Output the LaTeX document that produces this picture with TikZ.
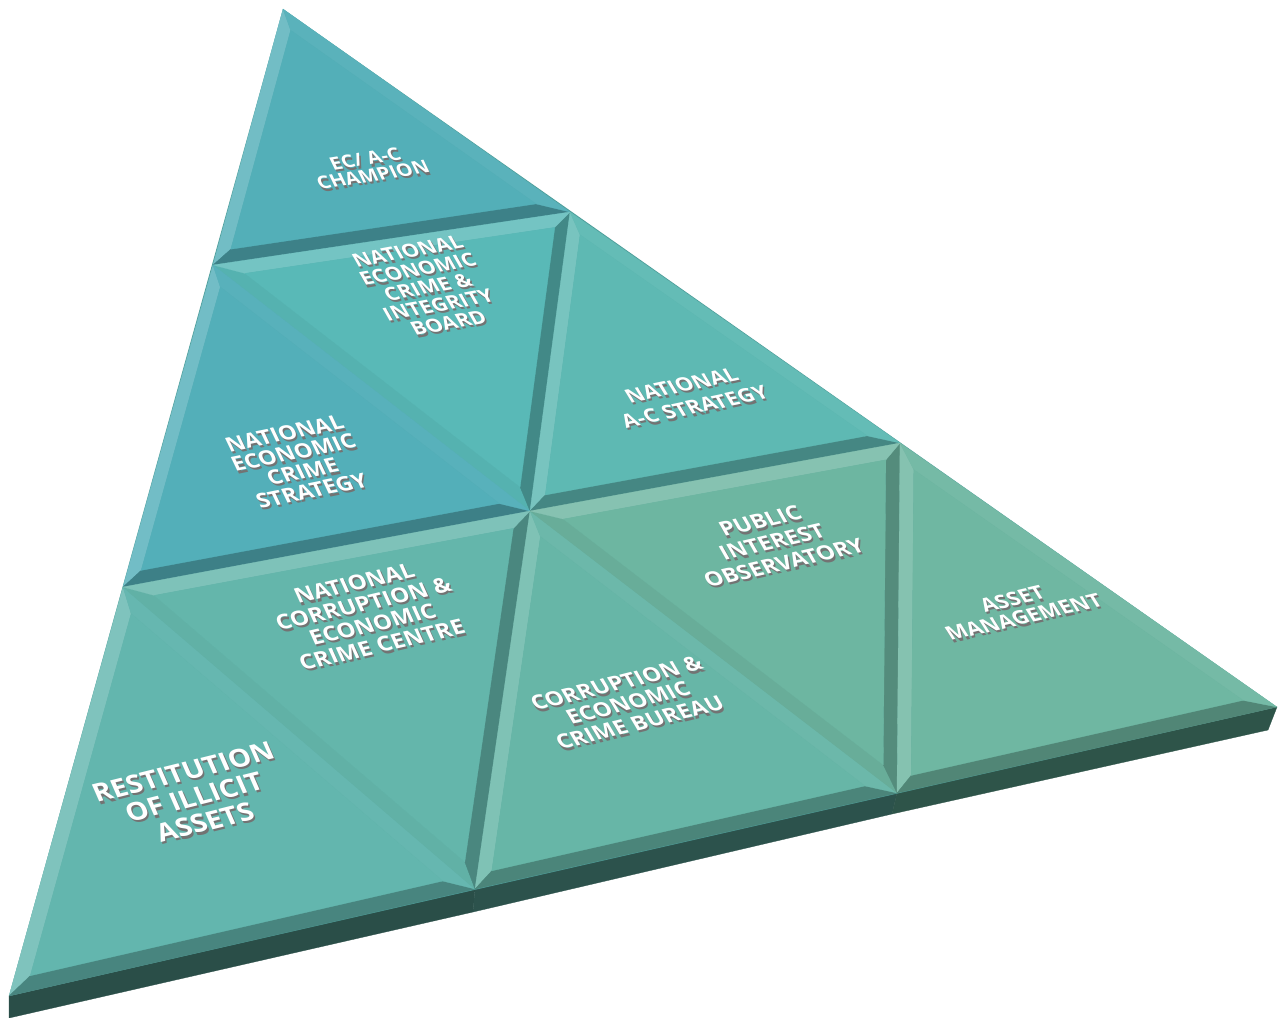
\documentclass[tikz,border=0pt]{standalone}
\usepackage{fontspec}
\setmainfont{Open Sans}
\usetikzlibrary{calc}
\definecolor{cTop}{HTML}{53AFB8}
\definecolor{cBoard}{HTML}{59B9B7}
\definecolor{cNac}{HTML}{5EB9B3}
\definecolor{cNes}{HTML}{53AFB9}
\definecolor{cNcecc}{HTML}{64B6AB}
\definecolor{cRest}{HTML}{63B6AE}
\definecolor{cCecb}{HTML}{67B6A7}
\definecolor{cPio}{HTML}{6DB6A1}
\definecolor{cAm}{HTML}{6FB7A2}
\definecolor{cBase}{HTML}{4E9E9A}
\definecolor{cSlabA}{HTML}{2A4E48}
\definecolor{cSlabB}{HTML}{2C524C}
\definecolor{cSlabC}{HTML}{2E5449}
\newcommand\getxy[3]{\pgfpointanchor{#1}{center}\pgfgetlastxy{#2}{#3}}
\newcommand\bevedge[6]{%
  \getxy{#1}{\bvPx}{\bvPy}\getxy{#2}{\bvQx}{\bvQy}\getxy{#5}{\bvOx}{\bvOy}%
  \pgfmathsetmacro\bvl{veclen(\bvQx-\bvPx,\bvQy-\bvPy)}%
  \pgfmathsetmacro\bvnx{(\bvQy-\bvPy)/\bvl}%
  \pgfmathsetmacro\bvny{(\bvPx-\bvQx)/\bvl}%
  \pgfmathsetmacro\bvd{(\bvOx-\bvPx)*\bvnx+(\bvOy-\bvPy)*\bvny}%
  \pgfmathsetmacro\bvs{(\bvd>0 ? -1 : 1)*(-0.7*\bvnx+0.7*\bvny)}%
  \pgfmathtruncatemacro\bvpos{\bvs>0 ? 1 : 0}%
  \ifnum\bvpos=1
    \pgfmathtruncatemacro\bvpct{100-20*\bvs}\colorlet{bvc}{#6!\bvpct!white}%
  \else
    \pgfmathtruncatemacro\bvpct{100+32*\bvs}\colorlet{bvc}{#6!\bvpct!black}%
  \fi
  \filldraw[fill=bvc,draw=bvc,line width=0.3pt,line join=round] (#1)--(#2)--(#4)--(#3)--cycle;%
}
\newcommand\bevtri[5]{%
  \getxy{#1}{\bvAx}{\bvAy}\getxy{#2}{\bvBx}{\bvBy}\getxy{#3}{\bvCx}{\bvCy}%
  \pgfmathsetmacro\bvla{veclen(\bvBx-\bvCx,\bvBy-\bvCy)}%
  \pgfmathsetmacro\bvlb{veclen(\bvCx-\bvAx,\bvCy-\bvAy)}%
  \pgfmathsetmacro\bvlc{veclen(\bvAx-\bvBx,\bvAy-\bvBy)}%
  \pgfmathsetmacro\bvper{\bvla+\bvlb+\bvlc}%
  \pgfmathsetmacro\bvIx{(\bvla/\bvper)*\bvAx+(\bvlb/\bvper)*\bvBx+(\bvlc/\bvper)*\bvCx}%
  \pgfmathsetmacro\bvIy{(\bvla/\bvper)*\bvAy+(\bvlb/\bvper)*\bvBy+(\bvlc/\bvper)*\bvCy}%
  \pgfmathsetmacro\bvr{abs(((\bvBx-\bvAx)/100)*((\bvCy-\bvAy)/100)-((\bvCx-\bvAx)/100)*((\bvBy-\bvAy)/100))*100/(\bvper/100)}%
  \pgfmathsetmacro\bvk{#5/\bvr}%
  \coordinate (bvI) at (\bvIx pt,\bvIy pt);%
  \coordinate (bvia) at ($(#1)!\bvk!(bvI)$);%
  \coordinate (bvib) at ($(#2)!\bvk!(bvI)$);%
  \coordinate (bvic) at ($(#3)!\bvk!(bvI)$);%
  \bevedge{#1}{#2}{bvia}{bvib}{#3}{#4}%
  \bevedge{#2}{#3}{bvib}{bvic}{#1}{#4}%
  \bevedge{#3}{#1}{bvic}{bvia}{#2}{#4}%
  \filldraw[fill=#4,draw=#4,line width=0.3pt] (bvia)--(bvib)--(bvic)--cycle;%
}
\tikzset{
  lbltext/.style={align=center, inner sep=0pt, text=white},
}
\newcommand\lbl[7]{%
  \node[lbltext, text=black!55, xshift=1.6pt, yshift=-2.3pt, rotate=#3, xslant=#4, xscale=1.11, font=\bfseries\fontsize{#5}{#6}\selectfont] (#1-sh) at (#2) {#7};%
  \node[lbltext, rotate=#3, xslant=#4, xscale=1.11, font=\bfseries\fontsize{#5}{#6}\selectfont] (#1) at (#2) {#7};%
}
\begin{document}
\begin{tikzpicture}[x=1pt,y=1pt]
\useasboundingbox (0,0) rectangle (1286,-1018);
% vertices
\coordinate (A)  at (283,-9);
\coordinate (L1) at (213,-265);
\coordinate (R1) at (570,-212);
\coordinate (L2) at (123,-587);
\coordinate (M2) at (530,-511);
\coordinate (R2) at (900,-443);
\coordinate (B0) at (9,-996);
\coordinate (B1) at (475,-889);
\coordinate (B2) at (897,-793);
\coordinate (B3) at (1277,-707);
\coordinate (S0) at (9,-1018);
\coordinate (S1) at (473,-912);
\coordinate (S2) at (892,-814);
\coordinate (S3) at (1268,-730);
% slab
\filldraw[fill=cSlabA,draw=cSlabA,line width=0.3pt] (B0)--(B1)--(S1)--(S0)--cycle;
\filldraw[fill=cSlabB,draw=cSlabB,line width=0.3pt] (B1)--(B2)--(S2)--(S1)--cycle;
\filldraw[fill=cSlabC,draw=cSlabC,line width=0.3pt] (B2)--(B3)--(S3)--(S2)--cycle;
\fill[cBase] (A)--(B0)--(B3)--cycle;
% tiles
\bevtri{A}{L1}{R1}{cTop}{13}
\bevtri{L1}{M2}{R1}{cBoard}{13}
\bevtri{R1}{M2}{R2}{cNac}{13}
\bevtri{L1}{L2}{M2}{cNes}{13}
\bevtri{L2}{B0}{B1}{cRest}{15}
\bevtri{L2}{B1}{M2}{cNcecc}{14}
\bevtri{M2}{B1}{B2}{cCecb}{14}
\bevtri{M2}{B2}{R2}{cPio}{14}
\bevtri{R2}{B2}{B3}{cAm}{14}
% labels
\lbl{t1}{369,-167}{9}{-0.3}{18}{17}{EC/ A-C\\CHAMPION}
\lbl{t2}{428,-287}{10.5}{-0.35}{19}{19.5}{NATIONAL\\ECONOMIC\\CRIME \&\\INTEGRITY\\BOARD}
\lbl{t3}{298,-462}{11.5}{-0.25}{20.5}{20.5}{NATIONAL\\ECONOMIC\\CRIME\\STRATEGY}
\lbl{t4}{688,-396}{12}{-0.35}{19.5}{24}{NATIONAL\\A-C STRATEGY}
\lbl{t5}{772,-542}{13}{-0.3}{20.5}{23}{PUBLIC\\INTEREST\\OBSERVATORY}
\lbl{t6}{1018,-608}{13}{-0.35}{19.5}{20}{ASSET\\MANAGEMENT}
\lbl{t7}{368,-614}{13}{-0.2}{21}{22}{NATIONAL\\CORRUPTION \&\\ECONOMIC\\CRIME CENTRE}
\lbl{t8}{628,-703}{14}{-0.3}{20.5}{22}{CORRUPTION \&\\ECONOMIC\\CRIME BUREAU}
\lbl{t9}{194,-797}{14}{-0.17}{25.5}{27}{RESTITUTION\\OF ILLICIT\\ASSETS}
\end{tikzpicture}
\end{document}
